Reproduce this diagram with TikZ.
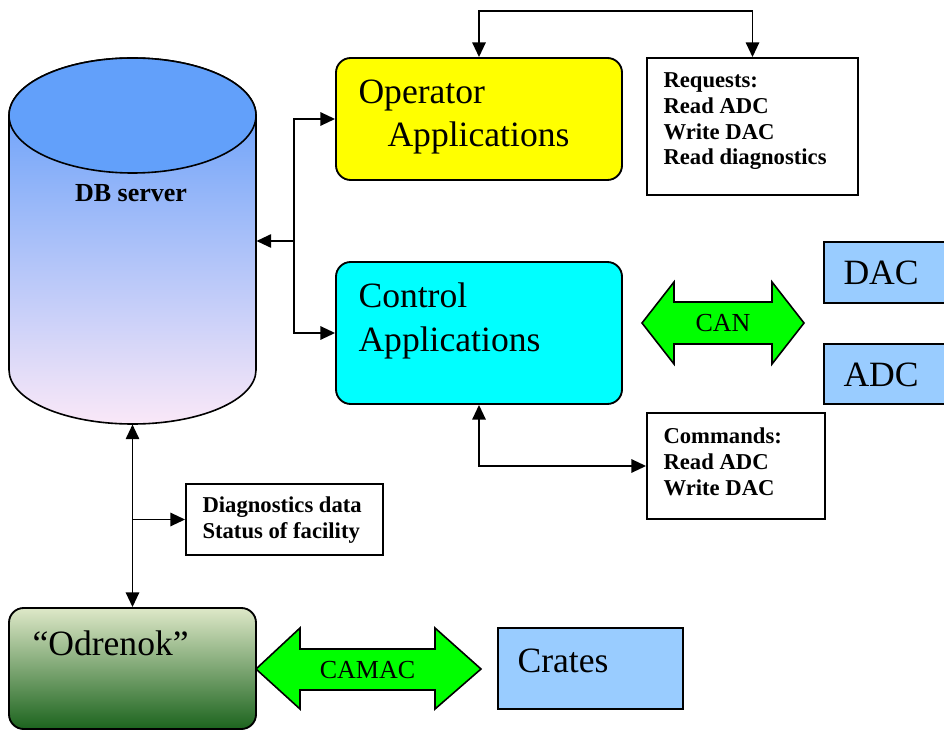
\documentclass[tikz,border=0pt]{standalone}
\usepackage{fontspec}
\setmainfont{Liberation Serif}
\usetikzlibrary{arrows.meta}

\tikzset{every picture/.style={line width=0.75pt}}
\tikzset{
  appbox/.style={draw, line width=1.4pt, rounded corners=11pt, inner sep=0pt},
  plainbox/.style={draw, line width=1.4pt, fill=white, inner sep=0pt},
  hwbox/.style={draw, line width=1.4pt, fill={rgb, 255:red, 153; green, 204; blue, 255}, inner sep=0pt},
  conn/.style={line width=1.4pt, -{Triangle[length=11pt,width=10pt]}},
  twoway/.style={line width=1.4pt, {Triangle[length=11pt,width=10pt]}-{Triangle[length=11pt,width=10pt]}},
  bus/.style={draw, line width=1.2pt, fill={rgb, 255:red, 0; green, 255; blue, 0}},
  bigtext/.style={inner sep=0pt, anchor=base west, align=left, font=\fontsize{26.7pt}{32.5pt}\selectfont},
  listtext/.style={inner sep=0pt, anchor=base west, align=left, font=\fontsize{17pt}{19.3pt}\selectfont\bfseries},
  bustext/.style={inner sep=0pt, anchor=base, font=\fontsize{19.5pt}{23pt}\selectfont},
}

\begin{document}
\begin{tikzpicture}[x=0.75pt,y=0.75pt,yscale=-1,xscale=1]
\useasboundingbox (0,0) rectangle (944,730);

%Shape: Can [id:db]
\shade [draw, line width=1.2pt, top color={rgb, 255:red, 88; green, 152; blue, 250}, middle color={rgb, 255:red, 135; green, 185; blue, 248}, bottom color={rgb, 255:red, 250; green, 232; blue, 248}] (9,115.5) -- (9,370) arc [start angle=180, end angle=0, x radius=123.5, y radius=54] -- (256,115.5) arc [start angle=0, end angle=-180, x radius=123.5, y radius=57.5] -- cycle ;
\draw [line width=1.2pt, fill={rgb, 255:red, 98; green, 160; blue, 250}] (132.5,115.5) ellipse [x radius=123.5, y radius=57.5] ;
\node (db) [minimum width=185.25pt, minimum height=274.5pt, inner sep=0pt] at (132.5,241) {};
\node (dbtext) [inner sep=0pt, anchor=base, font=\fontsize{19.5pt}{23pt}\selectfont\bfseries] at (131,202) {DB server};

%Boxes
\node (op) [appbox, fill={rgb, 255:red, 255; green, 255; blue, 0}, minimum width=214.5pt, minimum height=91.5pt] at (479,119) {};
\node (ctl) [appbox, fill={rgb, 255:red, 0; green, 255; blue, 255}, minimum width=214.5pt, minimum height=106.5pt] at (479,333) {};
\node (req) [plainbox, minimum width=158.25pt, minimum height=102.75pt] at (752.5,126.5) {};
\node (cmd) [plainbox, minimum width=133.5pt, minimum height=79.5pt] at (736,466) {};
\node (diag) [plainbox, minimum width=147.75pt, minimum height=53.25pt] at (284.5,519.5) {};
\node (dac) [hwbox, minimum width=94.5pt, minimum height=45.75pt] at (887,272.5) {};
\node (adc) [hwbox, minimum width=94.5pt, minimum height=45pt] at (887,374) {};
\node (crates) [hwbox, minimum width=138.75pt, minimum height=60.75pt] at (590.5,668.5) {};
\node (odr) [appbox, top color={rgb, 255:red, 222; green, 232; blue, 200}, middle color={rgb, 255:red, 150; green, 185; blue, 115}, bottom color={rgb, 255:red, 28; green, 100; blue, 30}, minimum width=185.25pt, minimum height=90.75pt] at (132.5,668.5) {};

%Shape: Double Arrow [id:can]
\draw [bus] (642,323) -- (674,282) -- (674,302) -- (772,302) -- (772,282) -- (804,323) -- (772,364) -- (772,344) -- (674,344) -- (674,364) -- cycle ;
%Shape: Double Arrow [id:camac]
\draw [bus] (256,669) -- (300,628) -- (300,649) -- (435,649) -- (435,628) -- (481,669) -- (435,709) -- (435,690) -- (300,690) -- (300,709) -- cycle ;

%Connectors
\coordinate (bus) at (294,241);
\draw [twoway] (op.west) -| (bus) |- (ctl.west) ;
\draw [conn] (bus) -- (db.east) ;
\draw [twoway] (op.north) -- ++(0,-46) -| (req.north) ;
\draw [twoway] (ctl.south) |- (cmd.west) ;
\draw [twoway] (db.south) -- (odr.north) ;
\draw [conn] (db.south |- diag.west) -- (diag.west) ;

% Text Node
\node (optext) [bigtext] at (358,146.7) {Operator\\\hspace*{21.75pt}Applications};
% Text Node
\node (ctltext) [bigtext] at (358,351) {Control\\Applications};
% Text Node
\node (reqtext) [listtext] at (663,165) {Requests:\\Read ADC\\Write DAC\\Read diagnostics};
% Text Node
\node (cmdtext) [listtext] at (663,495) {Commands:\\Read ADC\\Write DAC};
% Text Node
\node (diagtext) [listtext] at (202,538) {Diagnostics data\\Status of facility};
% Text Node
\node (dactext) [bigtext] at (843,285) {DAC};
% Text Node
\node (adctext) [bigtext] at (843,386) {ADC};
% Text Node
\node (odrtext) [bigtext] at (32,655) {“Odrenok”};
% Text Node
\node (cratestext) [bigtext] at (517,672) {Crates};
% Text Node
\node (cantext) [bustext] at (723,331) {CAN};
% Text Node
\node (camactext) [bustext] at (367.5,678) {CAMAC};
\end{tikzpicture}
\end{document}
